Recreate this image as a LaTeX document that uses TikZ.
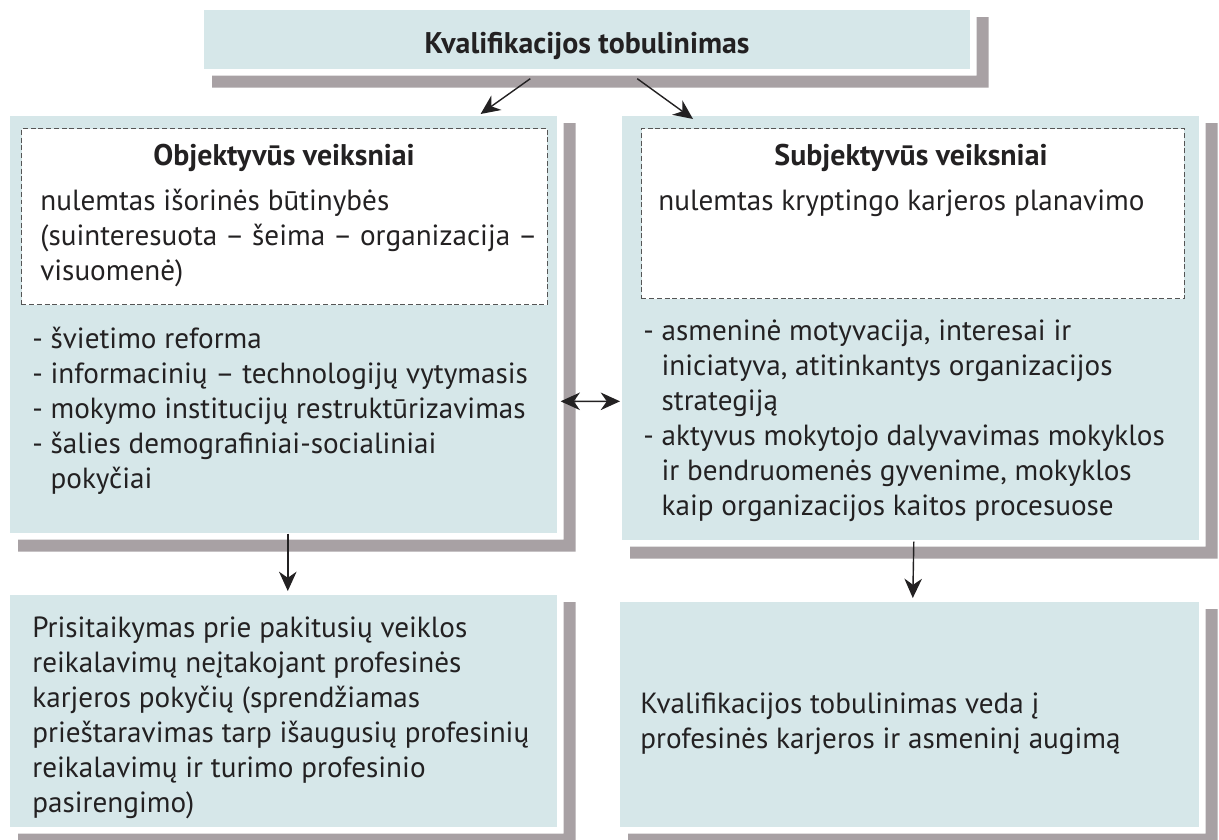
\documentclass[tikz,border=0pt]{standalone}
\usepackage{fontspec}
\setmainfont{PT Sans}
\usepackage{tikz}
\usetikzlibrary{calc,positioning,arrows.meta}
\definecolor{panelblue}{RGB}{214,231,233}
\definecolor{shadowgray}{RGB}{168,161,164}
\definecolor{inkdark}{RGB}{35,33,34}
\definecolor{dashgray}{RGB}{85,85,85}
\tikzstyle{panel}  = [anchor=north west, fill=panelblue, draw=none, inner sep=0pt]
\tikzstyle{note}   = [anchor=north west, fill=white, draw=dashgray, line width=0.6pt, dash pattern=on 2.8pt off 1.6pt, inner sep=0pt]
\tikzstyle{body}   = [anchor=base west, inner sep=0pt, text=inkdark, font=\fontsize{16.6}{20}\selectfont]
\tikzstyle{head}   = [anchor=base, inner sep=0pt, text=inkdark, font=\fontsize{17}{20}\selectfont\bfseries]
\tikzstyle{arrow}  = [draw=inkdark, line width=0.8pt, -{Stealth[length=11pt,width=10pt,inset=3.5pt]}]
\tikzstyle{twoway} = [draw=inkdark, line width=0.8pt, {Stealth[length=11pt,width=10pt,inset=3.5pt]}-{Stealth[length=11pt,width=10pt,inset=3.5pt]}]
% lines of a text block, baseline on the first line
\newcommand{\textlines}[1]{\parbox[t]{12cm}{\raggedright #1}}
% grey L-shaped drop shadow right and below a panel
\newcommand{\boxshadow}[1]{\fill[shadowgray] ($(#1.south west)+(8,6)$) -| ($(#1.north east)+(6,7)$) -| ($(#1.south east)+(18,18)$) -| ($(#1.south west)+(8,6)$) -- cycle;}

\begin{document}
\begin{tikzpicture}[x=0.02cm,y=-0.02cm]
	\useasboundingbox (0,0) rectangle (1219,839);

	% panels
	\node[panel, minimum width=15.32cm, minimum height=1.18cm] (top) at (204,10) {};
	\node[panel, minimum width=10.94cm, minimum height=8.34cm] (objf) at (10,116) {};
	\node[panel, minimum width=11.54cm, minimum height=8.48cm] (subjf) at (622,116) {};
	\node[panel, minimum width=10.94cm, minimum height=4.64cm] (adapt) at (10,595) {};
	\node[panel, minimum width=11.58cm, minimum height=4.5cm] (growth) at (620,602) {};
	\boxshadow{top}
	\boxshadow{objf}
	\boxshadow{subjf}
	\boxshadow{adapt}
	\boxshadow{growth}

	\node[note, minimum width=10.52cm, minimum height=3.52cm] (objnote) at (21,128) {};
	\node[note, minimum width=10.86cm, minimum height=3.4cm] (subjnote) at (641,128) {};

	% texts
	\node[head] (title) at (587,53) {Kvalifikacijos tobulinimas};

	\node[head] (objhead) at (284,165) {Objektyvūs veiksniai};
	\node[body] (objwhy) at (40,210) {\textlines{nulemtas išorinės būtinybės\\(suinteresuota – šeima – organizacija –\\visuomenė)}};
	\node[body] (objlist) at (32,348) {\textlines{- švietimo reforma\\- informacinių – technologijų vytymasis\\- mokymo institucijų restruktūrizavimas\\- šalies demografiniai-socialiniai\\\hphantom{- }pokyčiai}};

	\node[head] (subjhead) at (911,165) {Subjektyvūs veiksniai};
	\node[body] (subjwhy) at (658,210) {nulemtas kryptingo karjeros planavimo};
	\node[body] (subjlist) at (643,340) {\textlines{- asmeninė motyvacija, interesai ir\\\hphantom{- }iniciatyva, atitinkantys organizacijos\\\hphantom{- }strategiją\\- aktyvus mokytojo dalyvavimas mokyklos\\\hphantom{- }ir bendruomenės gyvenime, mokyklos\\\hphantom{- }kaip organizacijos kaitos procesuose}};

	\node[body] (adapttxt) at (32,637) {\textlines{Prisitaikymas prie pakitusių veiklos\\reikalavimų neįtakojant profesinės\\karjeros pokyčių (sprendžiamas\\prieštaravimas tarp išaugusių profesinių\\reikalavimų ir turimo profesinio\\pasirengimo)}};
	\node[body] (growthtxt) at (640,713) {\textlines{Kvalifikacijos tobulinimas veda į\\profesinės karjeros ir asmeninį augimą}};

	% connectors
	\draw[arrow] ($(top.south)+(-57,9)$) -- ($(objf.north east)+(-77,-2)$);
	\draw[arrow] ($(top.south)+(50,9)$) -- ($(subjf.north west)+(71,3)$);
	\draw[twoway] ($(objf.east)+(3,76.5)$) -- ($(subjf.west)+(-2,73)$);
	\draw[arrow] ($(objf.south)+(4,0)$) -- ($(adapt.north)+(4,-4)$);
	\draw[arrow] ($(subjf.south)+(3,1)$) -- ($(growth.north)+(3,-4)$);
\end{tikzpicture}
\end{document}
